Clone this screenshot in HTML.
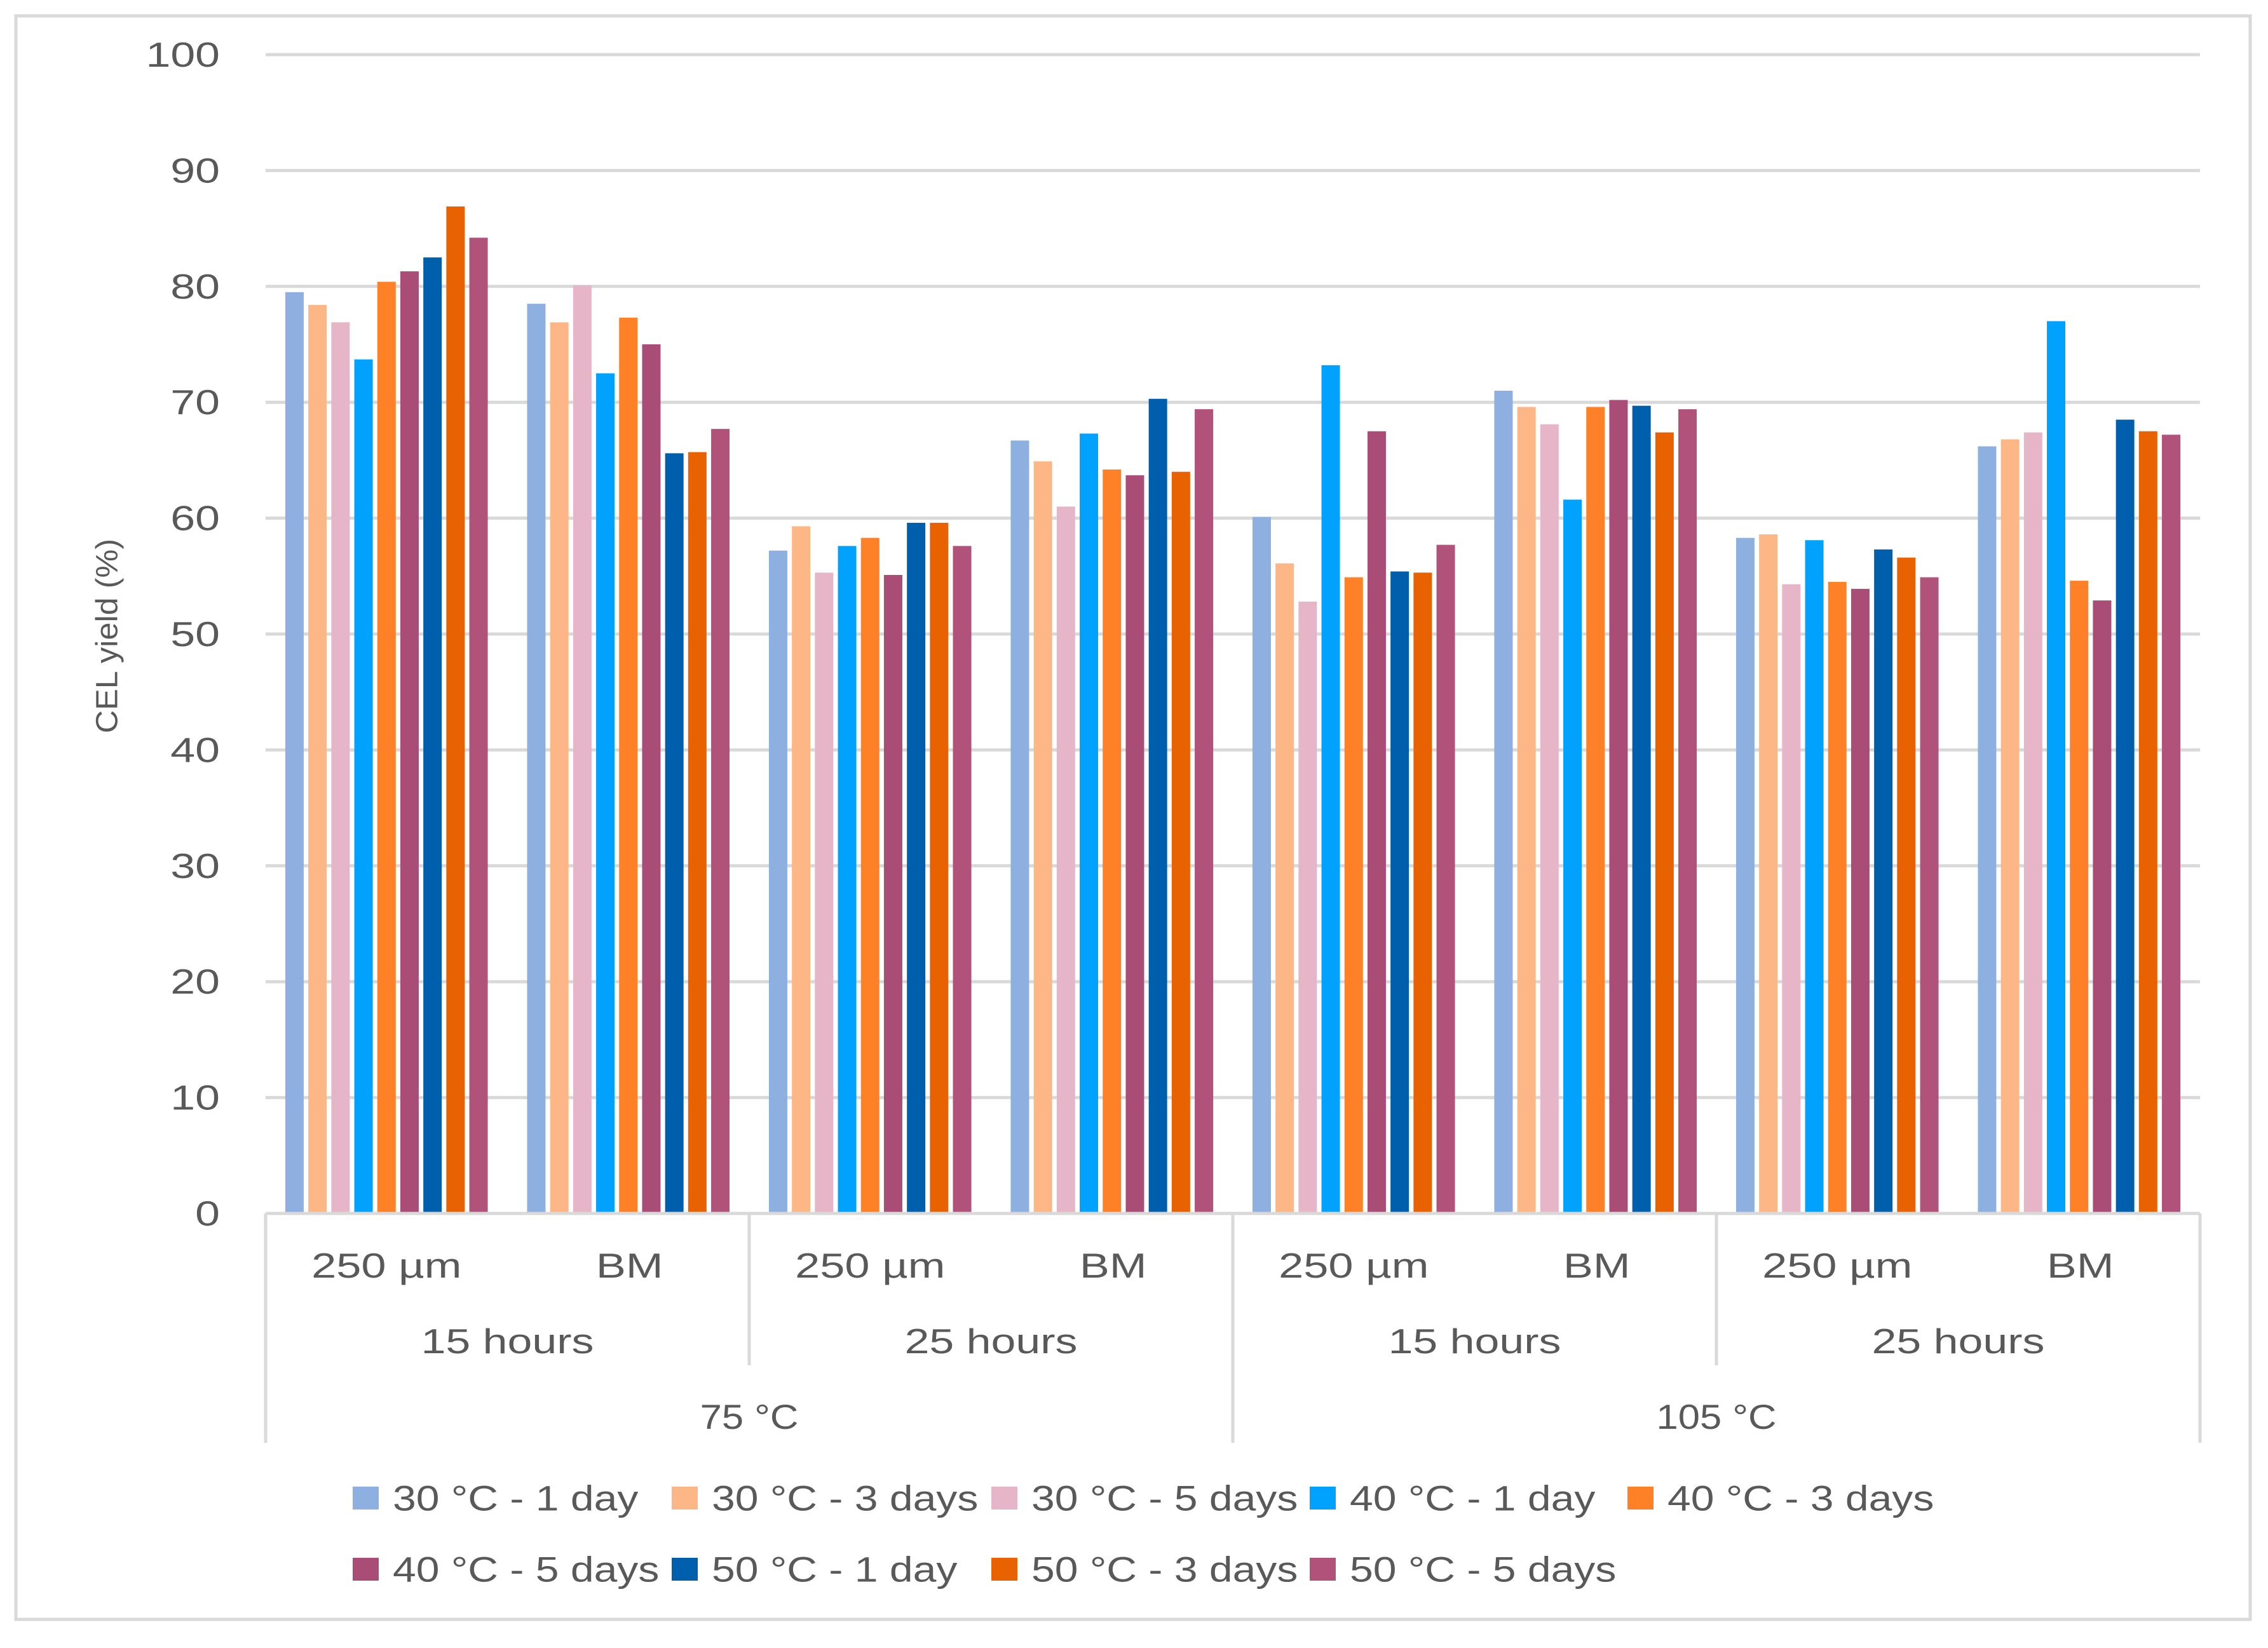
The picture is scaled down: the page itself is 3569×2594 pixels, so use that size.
<!DOCTYPE html>
<html><head><meta charset="utf-8"><style>
html,body{margin:0;padding:0;background:#fff;}
svg{display:block;font-family:"Liberation Sans",sans-serif;}
</style></head><body>
<svg id="chart" width="3569" height="2594" viewBox="0 0 3569 2594" xmlns="http://www.w3.org/2000/svg">
<rect x="25" y="25" width="3516" height="2524" fill="#fff" stroke="#d9d9d9" stroke-width="5"/>
<g id="grid"></g>
<g id="yticks"></g>
<g id="bars"></g>
<g id="xaxis"></g>
<text id="ytitle" x="169" y="1001" transform="rotate(-90 169 1001)" text-anchor="middle" dominant-baseline="central" font-size="48" fill="#595959">CEL yield (%)</text>
<g id="legend"></g>
</svg>
<script>
const categories = ["250 µm","BM","250 µm","BM","250 µm","BM","250 µm","BM"];
const hourLabels = ["15 hours","25 hours","15 hours","25 hours"];
const tempLabels = ["75 °C","105 °C"];
const seriesNames = ["30 °C - 1 day","30 °C - 3 days","30 °C - 5 days","40 °C - 1 day","40 °C - 3 days","40 °C - 5 days","50 °C - 1 day","50 °C - 3 days","50 °C - 5 days"];
const s30d1 = [79.5,78.5,57.2,66.7,60.1,71.0,58.3,66.2];
const s30d3 = [78.4,76.9,59.3,64.9,56.1,69.6,58.6,66.8];
const s30d5 = [76.9,80.1,55.3,61.0,52.8,68.1,54.3,67.4];
const s40d1 = [73.7,72.5,57.6,67.3,73.2,61.6,58.1,77.0];
const s40d3 = [80.4,77.3,58.3,64.2,54.9,69.6,54.5,54.6];
const s40d5 = [81.3,75.0,55.1,63.7,67.5,70.2,53.9,52.9];
const s50d1 = [82.5,65.6,59.6,70.3,55.4,69.7,57.3,68.5];
const s50d3 = [86.9,65.7,59.6,64.0,55.3,67.4,56.6,67.5];
const s50d5 = [84.2,67.7,57.6,69.4,57.7,69.4,54.9,67.2];
const yTicks = [0,10,20,30,40,50,60,70,80,90,100];

const series=[s30d1,s30d3,s30d5,s40d1,s40d3,s40d5,s50d1,s50d3,s50d5];
const colors=["#8db0e1","#fdb686","#e6b5c7","#00a2fe","#fe8027","#a94d76","#005fac","#e86202","#b0527a"];
const NS="http://www.w3.org/2000/svg";
const X0=418,X1=3462,Y0=1910,Y100=86;
const yS=v=>Y0-(Y0-Y100)*v/100;
const catW=(X1-X0)/categories.length;
const xCat=i=>X0+i*catW;
function mk(tag,attrs,parent){const e=document.createElementNS(NS,tag);for(const k in attrs)e.setAttribute(k,attrs[k]);parent.appendChild(e);return e;}
function stretch(t,f){const w=t.getComputedTextLength();t.setAttribute('textLength',(w*f).toFixed(1));t.setAttribute('lengthAdjust','spacingAndGlyphs');}
const grid=document.getElementById('grid'),yt=document.getElementById('yticks'),bars=document.getElementById('bars'),xa=document.getElementById('xaxis'),lg=document.getElementById('legend');
stretch(document.getElementById('ytitle'),1.05);
yTicks.forEach(t=>{
  if(t>0){const l=mk('line',{x1:X0,x2:X1,y1:yS(t),y2:yS(t),stroke:'#d9d9d9','stroke-width':5},grid);
  
  }
  const tx=mk('text',{x:346,y:yS(t),'text-anchor':'end','dominant-baseline':'central','font-size':55,fill:'#595959'},yt);
  tx.textContent=t;
  
  
  stretch(tx,1.27);
});
const pitch=36.2,bw=29,off=(catW-(series.length*pitch-(pitch-bw)))/2;
series.forEach((s,si)=>{
  s.forEach((v,ci)=>{
    const r=mk('rect',{x:xCat(ci)+off+si*pitch,y:yS(v),width:bw,height:Y0-yS(v),fill:colors[si]},bars);
    
    
  });
});
const ax=mk('line',{x1:X0,x2:X1,y1:Y0,y2:Y0,stroke:'#d9d9d9','stroke-width':5},xa);


for(let i=0;i<=categories.length;i+=2){
  const full=(i%4===0);
  const ln=mk('line',{x1:xCat(i),x2:xCat(i),y1:Y0,y2:full?2271:2149,stroke:'#d9d9d9','stroke-width':5},xa);
  
  
}
categories.forEach((c,i)=>{
  const t=mk('text',{x:xCat(i)+catW/2+(c==='BM'?2:0),y:1992,'text-anchor':'middle','dominant-baseline':'central','font-size':55,fill:'#595959'},xa);
  t.textContent=c;
  
  
  stretch(t,1.28);
});
hourLabels.forEach((c,i)=>{
  const t=mk('text',{x:xCat(i*2)+catW,y:2111,'text-anchor':'middle','dominant-baseline':'central','font-size':55,fill:'#595959'},xa);
  t.textContent=c;
  
  
  stretch(t,1.27);
});
tempLabels.forEach((c,i)=>{
  const t=mk('text',{x:xCat(i*4)+catW*2,y:2230,'text-anchor':'middle','dominant-baseline':'central','font-size':55,fill:'#595959'},xa);
  t.textContent=c;
  
  
  stretch(t,1.12);
});
const lx=[555,1057,1560,2061,2561];
seriesNames.forEach((n,i)=>{
  const row=i<5?0:1,col=i<5?i:i-5;
  const cy=row?2470:2358;
  const g=mk('g',{},lg);
  
  
  mk('rect',{x:lx[col],y:cy-18,width:41,height:36,fill:colors[i]},g);
  const t=mk('text',{x:lx[col]+63,y:cy,'dominant-baseline':'central','font-size':56,fill:'#595959'},g);
  t.textContent=n;
  stretch(t,1.18);
});
</script>
</body></html>
